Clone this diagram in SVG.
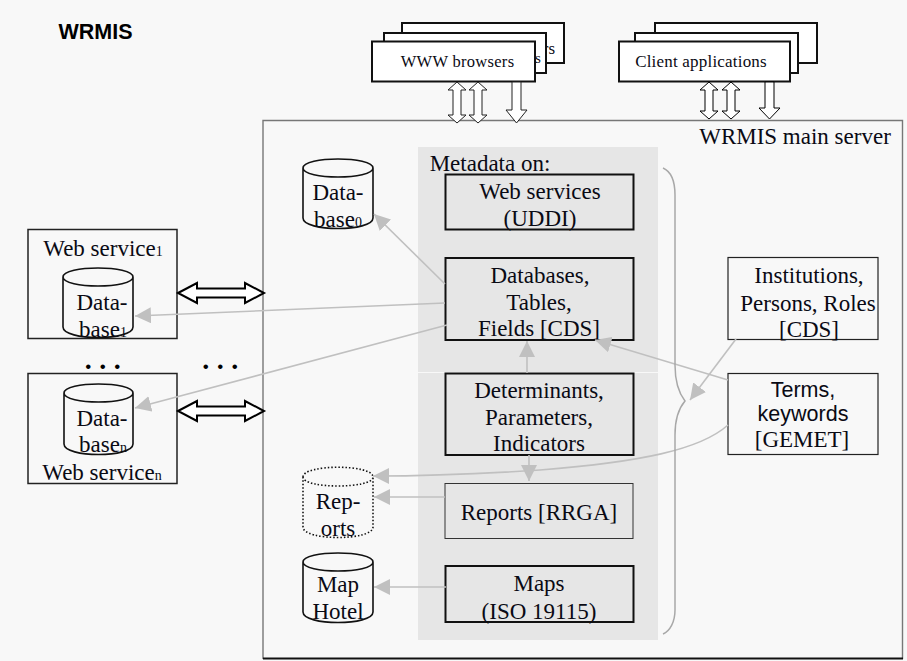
<svg xmlns="http://www.w3.org/2000/svg" width="907" height="661" viewBox="0 0 907 661">
<style>
text{font-family:"Liberation Serif","Times New Roman",serif;font-size:23px;fill:#0a0a14;text-anchor:middle}
.sm{font-size:14px}
.sans{font-family:"Liberation Sans",Arial,sans-serif}
.box{fill:#e6e6e6;stroke:#111;stroke-width:2}
.thin{fill:#e6e6e6;stroke:#333;stroke-width:1}
.wbox{fill:#f8f8f8;stroke:#222;stroke-width:1.2}
.stack{fill:#fff;stroke:#111;stroke-width:2}
.cyl{fill:none;stroke:#111;stroke-width:1.6}
.dot{stroke-dasharray:1.5 2}
.ga{fill:none;stroke:#c0c0c0;stroke-width:1.6}
.bl{fill:#fff;stroke:#222;stroke-width:1}
.bk{fill:#fff;stroke:#000;stroke-width:2}
.brace{fill:none;stroke:#a8a8a8;stroke-width:1.5}
.dots{font-size:28px;font-weight:bold;letter-spacing:7.5px;fill:#000}
</style>
<defs>
<marker id="ah" markerUnits="userSpaceOnUse" markerWidth="17" markerHeight="16" refX="16" refY="8" orient="auto"><path d="M0 0L16 8L0 16Z" fill="#c0c0c0"/></marker>
</defs>
<rect width="907" height="661" fill="#f8f8f8"/>
<text class="sans" x="95.500" y="39" style="font-size:21.500px;font-weight:bold;fill:#000">WRMIS</text>
<g id="main-server">
<path d="M263 659V120.500H902.500V659" fill="none" stroke="#777" stroke-width="1.400"/>
<path d="M263 658.500H903" fill="none" stroke="#111" stroke-width="2"/>
<text x="795" y="144">WRMIS main server</text>
</g>
<g id="metadata">
<rect x="418" y="147" width="240" height="493" fill="#e6e6e6"/>
<path d="M418 372.500H658" stroke="#f8f8f8" stroke-width="1"/>
<text x="490" y="171">Metadata on:</text>
</g>
<g id="www-browsers">
<rect class="stack" x="402" y="23" width="162" height="40"/>
<text x="549" y="54" style="font-size:17px">rs</text>
<rect class="stack" x="384" y="33" width="162" height="40"/>
<text x="538" y="63" style="font-size:15px">s</text>
<rect class="stack" x="372" y="41.500" width="163" height="40"/>
<text x="457.500" y="67" style="font-size:16.500px;letter-spacing:.3px">WWW browsers</text>
</g>
<g id="client-applications">
<rect class="stack" x="655" y="23" width="162" height="40"/>
<rect class="stack" x="635" y="33" width="163" height="40"/>
<rect class="stack" x="619" y="41.500" width="171" height="40"/>
<text x="701" y="67" style="font-size:17px;letter-spacing:.2px">Client applications</text>
</g>
<g id="web-service-1">
<rect class="wbox" x="28" y="229.500" width="149" height="109" style="stroke-width:1.500"/>
<text x="103" y="256">Web service<tspan class="sm">1</tspan></text>
</g>
<g id="database-1">
<path class="cyl" d="M63 277C63 265 133 265 133 277V327C133 341 63 341 63 327ZM63 277C63 289 133 289 133 277"/>
<text x="102" y="310">Data-</text>
<text x="103" y="337">base<tspan class="sm">1</tspan></text>
</g>
<g id="web-service-n">
<rect class="wbox" x="28" y="373.500" width="149" height="110" style="stroke-width:1.500"/>
<text x="102" y="480">Web service<tspan class="sm">n</tspan></text>
</g>
<g id="database-n">
<path class="cyl" d="M64 393C64 381 133 381 133 393V444C133 458 64 458 64 444ZM64 393C64 405 133 405 133 393"/>
<text x="102" y="426">Data-</text>
<text x="103" y="452">base<tspan class="sm">n</tspan></text>
</g>
<g id="database-0">
<path class="cyl" d="M303 168C303 156 373 156 373 168V218C373 232 303 232 303 218ZM303 168C303 180 373 180 373 168"/>
<text x="338" y="200">Data-</text>
<text x="338" y="227">base<tspan class="sm">0</tspan></text>
</g>
<g id="reports-store">
<path class="cyl dot" d="M303 477C303 464 373 464 373 477V527C373 541 303 541 303 527ZM303 477C303 489 373 489 373 477"/>
<text x="338" y="509">Rep-</text>
<text x="338" y="536">orts</text>
</g>
<g id="map-hotel">
<path class="cyl" d="M303 562C303 550 373 550 373 562V612C373 626 303 626 303 612ZM303 562C303 574 373 574 373 562"/>
<text x="338" y="592">Map</text>
<text x="338" y="619">Hotel</text>
</g>
<g id="web-services">
<rect class="box" x="445.500" y="174.500" width="188" height="55"/>
<text x="540" y="199">Web services</text>
<text x="540" y="226">(UDDI)</text>
</g>
<g id="databases">
<rect class="box" x="445.500" y="258" width="188" height="82"/>
<text x="540" y="283">Databases,</text>
<text x="539" y="310">Tables,</text>
<text x="539" y="336">Fields [CDS]</text>
</g>
<g id="determinants">
<rect class="box" x="445.500" y="373.500" width="188" height="81.500"/>
<text x="539" y="398">Determinants,</text>
<text x="539" y="425">Parameters,</text>
<text x="539" y="451">Indicators</text>
</g>
<g id="reports">
<rect class="thin" x="445" y="483.500" width="188" height="55"/>
<text x="539" y="520">Reports [RRGA]</text>
</g>
<g id="maps">
<rect class="box" x="445.500" y="566" width="188" height="56"/>
<text x="539" y="591">Maps</text>
<text x="539" y="619">(ISO 19115)</text>
</g>
<g id="institutions">
<rect class="wbox" x="728" y="257.500" width="150" height="82"/>
<text x="809" y="283">Institutions,</text>
<text x="808" y="311">Persons, Roles</text>
<text x="809" y="337">[CDS]</text>
</g>
<g id="terms">
<rect class="wbox" x="728" y="373.500" width="150" height="81"/>
<text class="sans" x="803" y="397" style="font-size:21.500px">Terms,</text>
<text class="sans" x="803" y="421" style="font-size:21.500px">keywords</text>
<text x="802" y="447">[GEMET]</text>
</g>
<g id="dots">
<text class="dots" x="106.500" y="369">...</text>
<text class="dots" x="224" y="369">...</text>
</g>
<g id="connectors">
<path class="bl" d="M457 82L466 90H461V115H466L457 123L448 115H453V90H448Z"/>
<path class="bl" d="M478 82L487 90H482V115H487L478 123L469 115H474V90H469Z"/>
<path class="bl" d="M512 82H521V110H527L516.500 123L506 110H512Z"/>
<path class="bk" style="stroke-width:1" d="M709 82L718 90H713V111H718L709 119L700 111H705V90H700Z"/>
<path class="bk" style="stroke-width:1" d="M731 82L740 90H735V111H740L731 119L722 111H727V90H722Z"/>
<path class="bk" style="stroke-width:1" d="M765 82H774V108H780L769.500 119L759 108H765Z"/>
<path class="bk" d="M178 293L197 283V288.500H245V283L264 293L245 303V297.500H197V303Z"/>
<path class="bk" d="M178 411L197 401V406.500H245V401L264 411L245 421V415.500H197V421Z"/>
<path class="ga" marker-end="url(#ah)" d="M445 284L374 214"/>
<path class="ga" marker-end="url(#ah)" d="M445 303L135 316"/>
<path class="ga" marker-end="url(#ah)" d="M447 325L135 408"/>
<path class="ga" marker-end="url(#ah)" d="M527 373V341"/>
<path class="ga" marker-end="url(#ah)" d="M529 455V481"/>
<path class="ga" marker-end="url(#ah)" d="M728 380L595 340"/>
<path class="ga" marker-end="url(#ah)" d="M736 339L690 400"/>
<path class="ga" marker-end="url(#ah)" d="M728 425C700 450 640 462 540 470C480 474 430 476 373 476"/>
<path class="ga" marker-end="url(#ah)" d="M445 497H374"/>
<path class="ga" marker-end="url(#ah)" d="M446 587H374"/>
<path class="brace" d="M663 168C672 172 675 182 675 195V365C675 382 678 392 685 401C679 408 675 418 675 435V610C675 622 670 631 663 634"/>
</g>
</svg>
